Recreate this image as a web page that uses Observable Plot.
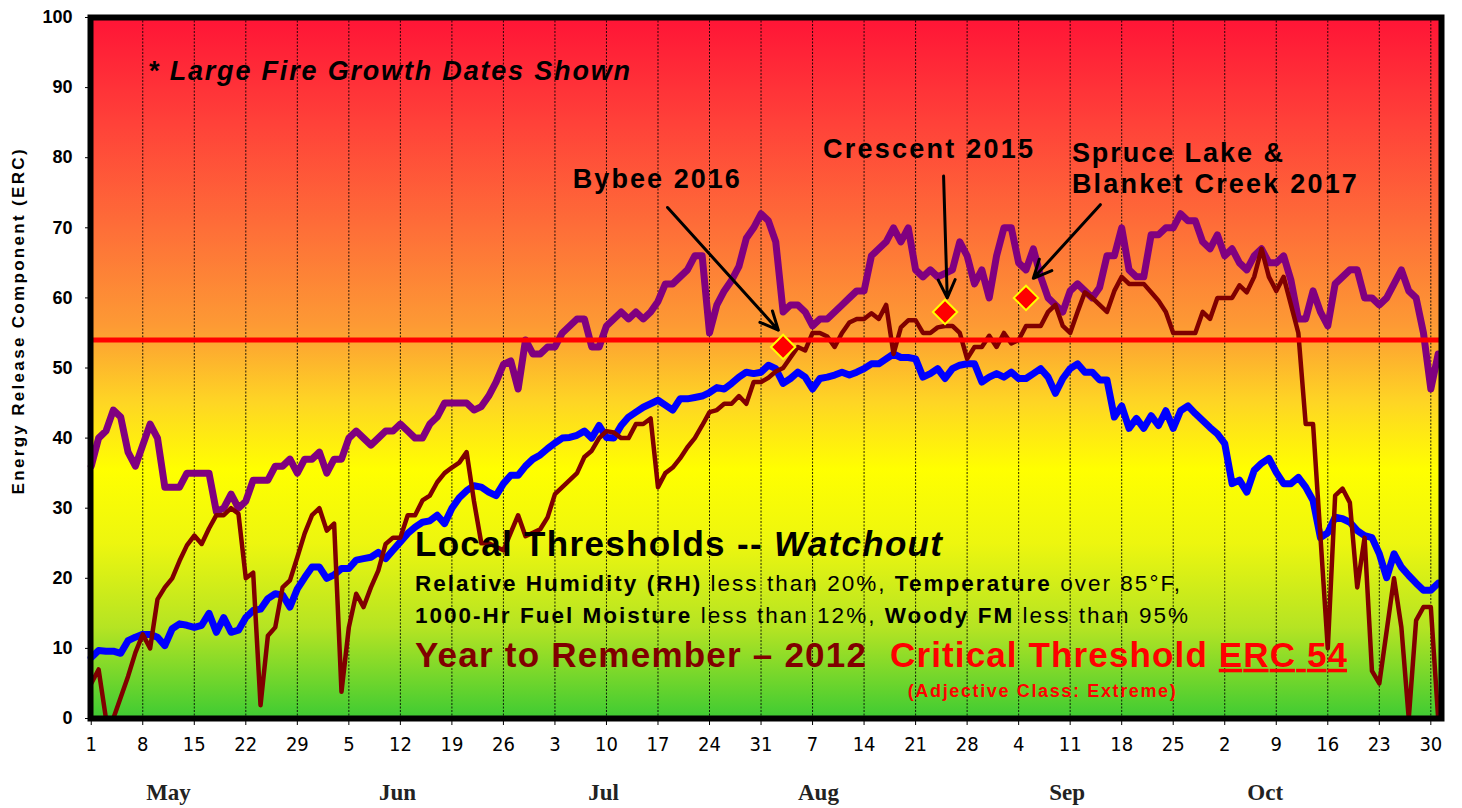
<!DOCTYPE html>
<html>
<head>
<meta charset="utf-8">
<script src="https://cdn.jsdelivr.net/npm/d3@7"></script>
<script src="https://cdn.jsdelivr.net/npm/@observablehq/plot@0.6"></script>
<style>
  html, body { margin: 0; padding: 0; background: #fff; }
  #chart svg { display: block; }
</style>
</head>
<body>
<div id="chart"></div>
<script>
// ---------------- data ----------------
const seasonStart = "2012-05-01";

// purple series (daily ERC, May 1 – Oct 31)
const purpleERC = [
  36,40,41,44,43,38,36,39,42,40,
  33,33,33,35,35,35,35,29.5,30,32,
  30,31,34,34,34,36,36,37,35,37,
  37,38,35,37,37,40,41,40,39,40,
  41,41,42,41,40,40,42,43,45,45,
  45,45,44,44.5,46,48,50.5,51,47,54,
  52,52,53,53,55,56,57,57,53,53,
  56,57,58,57,58,57,58,59.5,62,62,
  63,64,66,66,55,59,61,62.5,64.5,68.5,
  70,72,71,68,58,59,59,58,56,57,
  57,58,59,60,61,61,66,67,68,70,
  68,70,64,63,64,63,63.5,64,68,66,
  62,64,60,66,70,70,65,64,67,63,
  60,59,58,61,62,61,60,61.5,66,66,
  70,64,63,63,69,69,70,70,72,71,
  71,68,67,69,66,67,65,64,66,67,
  65,65,66,62.5,57,57,61,58,56,62,
  63,64,64,60,60,59,60,62,64,61,
  60,55,47,52
];

// blue series (daily ERC)
const blueERC = [
  8.7,9.7,9.6,9.6,9.3,11.1,11.6,12,12,11.6,
  10.4,12.8,13.5,13.3,13,13.3,15,12.3,14.4,12.3,
  12.6,14.4,15.4,15.6,17.1,17.8,17.6,15.9,18.5,20.1,
  21.6,21.6,20,20.5,21.4,21.4,22.6,22.8,23,23.7,
  22.8,24,25.2,26.4,27.3,28,28.2,29,27.8,30,
  31.5,32.5,33.2,33,32.3,31.8,33.5,34.7,34.7,36,
  37,37.6,38.5,39.3,40,40.1,40.4,41,40,41.8,
  40.1,40,41.8,43,43.7,44.4,44.9,45.4,44.7,44,
  45.6,45.6,45.8,46,46.5,47.2,47,47.8,48.7,49.4,
  49.2,49.4,50.4,49.9,47.8,48.5,49.4,48.7,47,48.5,
  48.7,49,49.4,49,49.4,49.9,50.6,50.6,51.3,52,
  51.5,51.5,51.3,48.7,49.2,49.9,48.5,49.9,50.4,50.6,
  50.6,48,48.7,49.2,48.7,49.4,48.5,48.5,49.2,49.9,
  48.7,46.4,48.5,49.9,50.6,49.4,49.4,48.3,48.3,43,
  44.6,41.4,42.8,41.4,43.2,41.8,43.9,41.4,43.9,44.6,
  43.5,42.5,41.5,40.6,39.2,33.5,34,32.3,35.4,36.4,
  37.1,35.1,33.5,33.5,34.4,33,31.1,25.8,26.5,28.7,
  28.5,28,26.8,26.1,25.8,23.5,20.1,23.5,21.6,20.4,
  19.3,18.3,18.3,19.3
];

// 2012 "Year to Remember" series (daily ERC)
const erc2012 = [
  5,7,0,0,3,6,9.4,12,10,17,
  18.7,20,22.5,24.7,26.1,24.9,27.1,29,29,30,
  29.2,20,20.8,1.9,11.8,13,18.7,19.7,23,26.4,
  29,30,26.8,27.8,3.8,13,17.8,15.9,18.7,21.1,
  24.9,25.8,25.8,29,29,31.1,31.8,33.7,35,35.8,
  36.5,38,31,25,25,24.5,24,26.5,29,26,
  26.5,27,28.7,32,33,34,35,37.3,38.2,40,
  41,40.8,40,40,42,42,42.8,33,35,35.8,
  37.1,38.7,40,41.8,43.7,44,44.9,44.9,46,44.9,
  48,48,48.6,49.5,50,51.5,53,52.5,55,55,
  54.5,53,55,56.5,57,57,57.8,57,59,52,
  55.8,56.8,56.8,55,55,55.8,56,56,55,51.3,
  53,53,54.6,53,55,53.5,54,56,56,56,
  58,59,56,55,58,60.8,60,59,58,61,
  63,62,62,62,60.8,59.6,58,55,55,55,
  55,58,57,60,60,60,61.8,60.8,63,67,
  63,61,63,59,55,42,42,26,10,31.8,
  32.8,30.8,18.7,25.8,6.8,5,12.5,20,13,0,
  14,15.9,15.9,0
];

const criticalERC = 54;

// large fire growth dates
const fireNames = ["Bybee 2016", "Crescent 2015", "Spruce Lake & Blanket Creek 2017"];
const fireDates = ["2012-08-03", "2012-08-25", "2012-09-05"];
const fireERC = [53, 58, 60];

// annotation arrows (day offset from May 1, ERC)
const arrowFromDay = [78.3, 115.8, 137.1];
const arrowFromERC = [72.9, 77.4, 73.3];
const arrowToDay = [93.35, 116.3, 128.0];
const arrowToERC = [55.4, 60.0, 62.8];

// axis ticks / labels
const yTicks = [0, 10, 20, 30, 40, 50, 60, 70, 80, 90, 100];
const weekTickLabels = ["1","8","15","22","29","5","12","19","26","3","10","17","24","31",
                        "7","14","21","28","4","11","18","25","2","9","16","23","30"];
const monthNames = ["May", "Jun", "Jul", "Aug", "Sep", "Oct"];
const monthLabelDay = [10.5, 41.6, 69.6, 98.8, 132.6, 159.5];

// ---------------- helpers ----------------
const DAY = 864e5;
const t0 = new Date(seasonStart + "T00:00:00Z");
const at = d => new Date(t0.getTime() + d * DAY);
const toRows = series => series.map((v, i) => ({date: at(i), erc: v}));

const weekTicks = weekTickLabels.map((_, i) => at(i * 7));
const tickLabelByTime = new Map(weekTicks.map((d, i) => [+d, weekTickLabels[i]]));
const fireRows = fireNames.map((name, i) => ({name, date: new Date(fireDates[i] + "T00:00:00Z"), erc: fireERC[i]}));
const arrowRows = arrowFromDay.map((d, i) => ({
  x1: at(d), y1: arrowFromERC[i], x2: at(arrowToDay[i]), y2: arrowToERC[i]
}));
const monthRows = monthNames.map((m, i) => ({m, date: at(monthLabelDay[i])}));

const NS = "http://www.w3.org/2000/svg";
const el = (tag, attrs = {}) => {
  const e = document.createElementNS(NS, tag);
  for (const k in attrs) e.setAttribute(k, attrs[k]);
  return e;
};

// background gradient (red -> orange -> yellow -> green)
const gradientStops = [
  [0.00, "#FF1436"],
  [0.15, "#FF4139"],
  [0.30, "#FE6E38"],
  [0.44, "#FD9A34"],
  [0.55, "#FED624"],
  [0.645, "#FFFF00"],
  [0.75, "#EDF60F"],
  [0.87, "#B5E423"],
  [1.00, "#3ECB33"]
];
function gradientDefs() {
  const defs = el("defs");
  const lg = el("linearGradient", {id: "ercBg", x1: 0, y1: 0, x2: 0, y2: 1});
  for (const [o, c] of gradientStops) lg.appendChild(el("stop", {offset: o, "stop-color": c}));
  defs.appendChild(lg);
  return defs;
}

// text annotations (anchored in data coordinates)
const notes = [
  {day: 7.78, erc: 92.4, size: 27, italic: true, width: 482, parts: [{text: "* Large Fire Growth Dates Shown"}]},
  {day: 65.5, erc: 77.0, size: 27, width: 167, parts: [{text: "Bybee 2016"}]},
  {day: 99.5, erc: 81.3, size: 27, width: 210, parts: [{text: "Crescent 2015"}]},
  {day: 133.3, erc: 80.7, size: 27, width: 211, parts: [{text: "Spruce Lake &"}]},
  {day: 133.3, erc: 76.3, size: 27, width: 285, parts: [{text: "Blanket Creek 2017"}]},
  {day: 44.05, erc: 24.96, size: 35, width: 527, parts: [{text: "Local Thresholds -- "}, {text: "Watchout", italic: true}]},
  {day: 44.05, erc: 19.26, size: 22.5, width: 765, parts: [
    {text: "Relative Humidity (RH)"}, {text: " less than 20%, ", weight: "normal"},
    {text: "Temperature"}, {text: " over 85°F,", weight: "normal"}]},
  {day: 44.05, erc: 14.7, size: 22.5, width: 773, parts: [
    {text: "1000-Hr Fuel Moisture"}, {text: " less than 12%, ", weight: "normal"},
    {text: "Woody FM"}, {text: " less than 95%", weight: "normal"}]},
  {day: 44.05, erc: 9.1, size: 35, color: "#800000", width: 451, parts: [{text: "Year to Remember – 2012"}]},
  {day: 108.59, erc: 9.1, size: 35, color: "#FF0000", width: 457, parts: [{text: "Critical Threshold "}, {text: "ERC 54", underline: true}]},
  {day: 111.0, erc: 3.99, size: 18, color: "#FF0000", width: 268, parts: [{text: "(Adjective Class: Extreme)"}]}
];

function textLayer(index, scales, values, dims) {
  const g = el("g", {"font-family": "'Liberation Sans', Arial, Helvetica, sans-serif", "text-anchor": "start"});
  for (const n of notes) {
    const t = el("text", {
      x: scales.x(at(n.day)), y: scales.y(n.erc), dy: "0.36em", "text-anchor": "start",
      "font-size": n.size, "font-weight": "bold", fill: n.color || "#000"
    });
    if (n.italic) t.setAttribute("font-style", "italic");
    if (n.width) { t.setAttribute("textLength", n.width); t.setAttribute("lengthAdjust", "spacing"); }
    for (const p of n.parts) {
      const s = el("tspan");
      s.textContent = p.text;
      if (p.weight) s.setAttribute("font-weight", p.weight);
      if (p.italic) s.setAttribute("font-style", "italic");
      if (p.underline) s.setAttribute("text-decoration", "underline");
      t.appendChild(s);
    }
    g.appendChild(t);
  }
  // y-axis title
  const yx = dims.marginLeft - 72, yy = scales.y(56.5);
  const yt = el("text", {
    x: yx, y: yy, dy: "0.36em", "text-anchor": "middle", transform: `rotate(-90 ${yx} ${yy})`,
    "font-size": 17, "font-weight": "bold", fill: "#000", textLength: 345, lengthAdjust: "spacing"
  });
  yt.textContent = "Energy Release Component (ERC)";
  g.appendChild(yt);
  return g;
}

// ---------------- chart ----------------
const chart = Plot.plot({
  width: 1462,
  height: 808,
  marginLeft: 90,
  marginRight: 21,
  marginTop: 17,
  marginBottom: 90,
  style: {fontFamily: "'Liberation Sans', Arial, sans-serif", background: "#fff", overflow: "visible"},
  x: {type: "utc", domain: [at(-0.1), at(183.45)], axis: null},
  y: {domain: [0, 100], axis: null},
  marks: [
    gradientDefs,
    Plot.frame({fill: "url(#ercBg)"}),
    Plot.ruleX(weekTicks.slice(1), {stroke: "#000", strokeWidth: 1, strokeDasharray: "2,1.5", strokeOpacity: 0.85}),
    Plot.line(toRows(purpleERC), {x: "date", y: "erc", stroke: "#800080", strokeWidth: 7}),
    Plot.line(toRows(blueERC), {x: "date", y: "erc", stroke: "#0000FF", strokeWidth: 7}),
    Plot.line(toRows(erc2012), {x: "date", y: "erc", stroke: "#800000", strokeWidth: 4.5}),
    Plot.ruleY([criticalERC], {stroke: "#FF0000", strokeWidth: 5}),
    Plot.arrow(arrowRows, {x1: "x1", y1: "y1", x2: "x2", y2: "y2", stroke: "#000", strokeWidth: 3, headLength: 10, headAngle: 50}),
    Plot.dot(fireRows, {x: "date", y: "erc", symbol: "diamond2", r: 11, fill: "#FF0000", stroke: "#FFFF00", strokeWidth: 2}),
    textLayer,
    Plot.frame({stroke: "#000", strokeWidth: 6}),
    Plot.axisY(yTicks, {
      tickSize: 5, tickPadding: 13, fontSize: 18, fontWeight: "bold", label: null, color: "#000",
      tickFormat: d => String(d)
    }),
    Plot.axisX(weekTicks, {
      tickSize: 7, tickPadding: 11, fontSize: 20, label: null, color: "#000",
      fontFamily: "'Liberation Sans Narrow', 'Arial Narrow', 'DejaVu Sans Condensed', sans-serif",
      tickFormat: d => tickLabelByTime.get(+d)
    }),
    Plot.text(monthRows, {
      x: "date", text: "m", frameAnchor: "bottom", dy: 81,
      fontFamily: "'Liberation Serif', 'Times New Roman', serif", fontWeight: "bold", fontSize: 23, fill: "#222"
    })
  ]
});

document.getElementById("chart").appendChild(chart);
</script>
</body>
</html>
